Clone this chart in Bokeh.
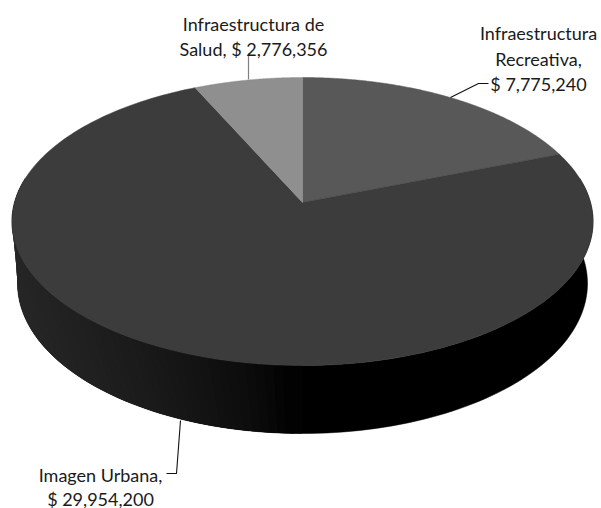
import numpy as np
from bokeh.core.properties import value
from bokeh.embed import file_html
from bokeh.models import Range1d
from bokeh.plotting import figure
from bokeh.resources import INLINE

# clockwise from 12 o'clock
categories = ["Infraestructura Recreativa", "Imagen Urbana", "Infraestructura de Salud"]
amounts = [7775240, 29954200, 2776356]
colors = ["#585858", "#3c3c3c", "#8f8f8f"]

W, H = 601, 508
AX, AY = 302.0, 202.0   # apex
K, A, B = -0.132, 141.5, 288.0


def top_rim(theta):
    X, Y = np.sin(theta), np.cos(theta)
    w = 1 - K * Y
    return AX + B * X / w, AY - A * Y / w


def bottom_rim(theta):
    return 302.0 + 285.0 * np.sin(theta), 283.0 - 150.0 * np.cos(theta)


p = figure(width=W, height=H, output_backend="svg", toolbar_location=None,
           x_range=Range1d(0, W), y_range=Range1d(H, 0),
           min_border=0, outline_line_color=None, background_fill_color="white",
           border_fill_color="white")
p.axis.visible = False
p.grid.visible = False

# side wall: a solid base, then overlapping shaded strips (left part only)
edges = np.radians(np.linspace(80, 280, 121))
tx, ty = top_rim(edges)
bx, by = bottom_rim(edges)
p.patch(np.r_[tx, bx[::-1]], np.r_[ty, by[::-1]], fill_color="#000000", line_color="#000000", line_width=0.5)
xs, ys, shades = [], [], []
for i in range(len(edges) - 1, 0, -1):
    j = max(i - 2, 0)
    mid = (bx[i] + bx[i - 1]) / 2
    g = int(np.interp(mid, [12, 100, 170, 250, 300, 600], [40, 32, 25, 13, 0, 0]))
    if g == 0:
        continue
    xs.append([tx[i], tx[j], bx[j], bx[i]])
    ys.append([ty[i], ty[j], by[j], by[i]])
    shades.append(f"#{g:02x}{g:02x}{g:02x}")
p.patches(xs, ys, fill_color=shades, line_color=None)

# top faces, from the values
fractions = np.array(amounts) / sum(amounts)
bounds = np.concatenate([[0], np.cumsum(fractions)]) * 2 * np.pi
for i, col in enumerate(colors):
    th = np.linspace(bounds[i], bounds[i + 1], 240)
    rx, ry = top_rim(th)
    p.patch(np.r_[AX, rx], np.r_[AY, ry], fill_color=col, line_color=col, line_width=0.5)

# leader lines
p.line([248, 248], [53, 79], line_color="#808080", line_width=1.2)
p.line([450, 478, 488], [97, 83, 83], line_color="#111111", line_width=1.1)
p.line([180, 176, 166], [420, 473, 473], line_color="#111111", line_width=1.1)

# labels
money = [f"$ {a:,}" for a in amounts]
label_text = ["Infraestructura", "Recreativa,", money[0],
              "Imagen Urbana,", money[1],
              "Infraestructura de", "Salud, " + money[2]]
label_x = [538, 538, 538, 100, 100, 253, 253]
label_y = [32, 58, 83, 474, 498, 23, 48]
p.text(label_x, label_y, text=label_text, text_font=value("Lato"), text_font_size="18px",
       text_align="center", text_baseline="alphabetic", text_color="#1a1a1a")

open("out.html", "w").write(file_html(p, INLINE))
